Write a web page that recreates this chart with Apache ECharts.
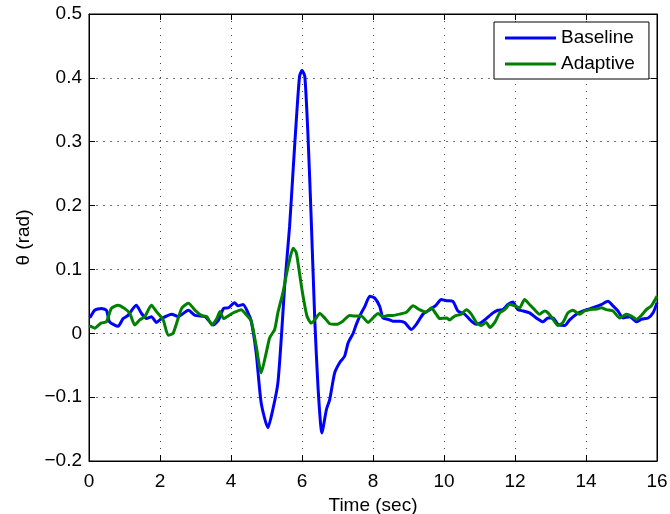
<!DOCTYPE html>
<html>
<head>
<meta charset="utf-8">
<script src="https://cdn.jsdelivr.net/npm/echarts@6/dist/echarts.min.js"></script>
<style>
	html, body { margin: 0; padding: 0; background: #fff; }
	#chart { width: 670px; height: 514px; }
</style>
</head>
<body>
<div id="chart"></div>
<script>
// 时间轴与角度数据
var baselineTime = [0, 0.04, 0.16, 0.34, 0.49, 0.58, 0.82, 0.96, 1.10, 1.33, 1.48, 1.62, 1.76, 1.90, 2.04, 2.33, 2.51, 2.80, 2.99, 3.27, 3.50, 3.65, 3.79, 3.93, 4.10, 4.20, 4.34, 4.48, 4.57, 4.71, 4.85, 5.04, 5.18, 5.32, 5.42, 5.51, 5.65, 5.75, 5.84, 5.93, 6.00, 6.08, 6.17, 6.26, 6.36, 6.45, 6.56, 6.69, 6.78, 6.92, 7.06, 7.20, 7.30, 7.44, 7.53, 7.67, 7.77, 7.91, 8.05, 8.19, 8.28, 8.42, 8.56, 8.75, 8.89, 9.08, 9.22, 9.41, 9.60, 9.78, 9.92, 10.07, 10.25, 10.39, 10.58, 10.77, 10.91, 11.05, 11.19, 11.38, 11.52, 11.66, 11.80, 11.94, 12.08, 12.23, 12.41, 12.60, 12.79, 12.93, 13.07, 13.21, 13.40, 13.54, 13.73, 13.92, 14.10, 14.29, 14.43, 14.62, 14.76, 14.90, 15.04, 15.23, 15.42, 15.56, 15.75, 15.89, 16.0];
var baselineTheta = [0.025, 0.026, 0.036, 0.039, 0.036, 0.018, 0.011, 0.023, 0.028, 0.044, 0.031, 0.023, 0.026, 0.017, 0.023, 0.030, 0.026, 0.036, 0.028, 0.026, 0.013, 0.021, 0.039, 0.040, 0.048, 0.043, 0.045, 0.032, 0.019, -0.031, -0.109, -0.148, -0.119, -0.078, -0.005, 0.073, 0.167, 0.256, 0.334, 0.402, 0.412, 0.402, 0.308, 0.178, 0.021, -0.083, -0.156, -0.119, -0.104, -0.062, -0.046, -0.036, -0.015, 0.000, 0.014, 0.032, 0.042, 0.058, 0.055, 0.042, 0.024, 0.022, 0.019, 0.019, 0.017, 0.006, 0.014, 0.030, 0.037, 0.044, 0.053, 0.051, 0.050, 0.035, 0.030, 0.019, 0.014, 0.017, 0.023, 0.032, 0.036, 0.037, 0.045, 0.049, 0.037, 0.035, 0.032, 0.024, 0.018, 0.024, 0.024, 0.014, 0.012, 0.021, 0.030, 0.035, 0.038, 0.042, 0.045, 0.050, 0.043, 0.035, 0.024, 0.026, 0.018, 0.022, 0.024, 0.032, 0.048];

var adaptiveTime = [0, 0.04, 0.16, 0.34, 0.49, 0.63, 0.82, 1.00, 1.15, 1.29, 1.43, 1.57, 1.76, 1.90, 2.09, 2.23, 2.37, 2.61, 2.80, 2.99, 3.17, 3.32, 3.46, 3.60, 3.69, 3.79, 3.97, 4.10, 4.29, 4.43, 4.57, 4.71, 4.85, 4.99, 5.09, 5.23, 5.32, 5.46, 5.61, 5.75, 5.84, 5.93, 6.03, 6.14, 6.26, 6.36, 6.50, 6.64, 6.78, 6.97, 7.15, 7.34, 7.48, 7.67, 7.86, 8.00, 8.14, 8.28, 8.42, 8.56, 8.75, 8.94, 9.13, 9.31, 9.50, 9.64, 9.78, 9.88, 10.07, 10.16, 10.30, 10.49, 10.63, 10.77, 10.91, 11.05, 11.19, 11.29, 11.43, 11.57, 11.71, 11.85, 11.99, 12.13, 12.27, 12.41, 12.55, 12.69, 12.84, 12.93, 13.07, 13.21, 13.35, 13.49, 13.63, 13.82, 13.96, 14.10, 14.29, 14.43, 14.57, 14.76, 14.95, 15.14, 15.28, 15.42, 15.56, 15.70, 15.84, 16.0];
var adaptiveTheta = [0.010, 0.011, 0.008, 0.016, 0.018, 0.039, 0.044, 0.039, 0.031, 0.013, 0.021, 0.026, 0.044, 0.034, 0.021, -0.003, 0.000, 0.039, 0.047, 0.036, 0.028, 0.026, 0.013, 0.023, 0.034, 0.023, 0.029, 0.033, 0.037, 0.029, 0.019, -0.020, -0.062, -0.031, -0.007, 0.006, 0.032, 0.063, 0.105, 0.133, 0.126, 0.094, 0.058, 0.027, 0.016, 0.021, 0.031, 0.024, 0.015, 0.014, 0.019, 0.028, 0.027, 0.027, 0.017, 0.024, 0.031, 0.026, 0.028, 0.028, 0.030, 0.033, 0.043, 0.037, 0.033, 0.040, 0.030, 0.023, 0.024, 0.021, 0.027, 0.030, 0.037, 0.030, 0.017, 0.012, 0.017, 0.009, 0.017, 0.032, 0.037, 0.045, 0.043, 0.040, 0.053, 0.045, 0.037, 0.030, 0.035, 0.032, 0.022, 0.012, 0.017, 0.032, 0.036, 0.030, 0.035, 0.037, 0.038, 0.040, 0.037, 0.035, 0.024, 0.030, 0.027, 0.022, 0.028, 0.037, 0.043, 0.058];

var xTickLabels = ['0', '2', '4', '6', '8', '10', '12', '14', '16'];
var yTickLabels = ['\u22120.2', '\u22120.1', '0', '0.1', '0.2', '0.3', '0.4', '0.5'];

function zip(t, v) {
	var out = [];
	for (var i = 0; i < t.length; i++) {
		out.push([t[i], v[i]]);
	}
	return out;
}

var FONT = 'Liberation Sans';
var FS = 19;

var chart = echarts.init(document.getElementById('chart'), null, { renderer : 'canvas' });

// 坐标轴外框：上、右两边只画刻度，不画标签
function boxAxis(pos, min, max, interval) {
	return {
		type : 'value',
		position : pos,
		min : min,
		max : max,
		interval : interval,
		axisLine : { show : true, onZero : false, lineStyle : { color : '#000', width : 1 } },
		axisTick : { show : true, inside : true, length : 6, lineStyle : { color : '#000' } },
		axisLabel : { show : false },
		splitLine : { show : false }
	};
}

var option = {
	animation : false,
	backgroundColor : '#fff',
	textStyle : { fontFamily : FONT },
	grid : {
		left : 89,
		right : 13,
		top : 14,
		bottom : 53,
		outerBoundsMode : 'none',
		containLabel : false,
		show : true,
		borderColor : '#000',
		borderWidth : 1,
		backgroundColor : '#fff'
	},
	legend : {
		left : 494,
		top : 22,
		orient : 'vertical',
		icon : 'rect',
		itemWidth : 51,
		itemHeight : 3,
		itemGap : 6,
		padding : [ 6, 14, 5, 11 ],
		backgroundColor : '#fff',
		borderColor : '#000',
		borderWidth : 1,
		textStyle : { color : '#000', fontSize : FS, fontFamily : FONT, lineHeight : 20 },
		data : [ 'Baseline', 'Adaptive' ]
	},
	xAxis : [ {
		type : 'value',
		position : 'bottom',
		min : 0,
		max : 16,
		interval : 2,
		name : 'Time (sec)',
		nameLocation : 'middle',
		nameGap : 27,
		nameTextStyle : { color : '#000', fontSize : FS, fontFamily : FONT },
		axisLine : { show : true, onZero : false, lineStyle : { color : '#000', width : 1 } },
		axisTick : { show : true, inside : true, length : 6, lineStyle : { color : '#000' } },
		axisLabel : {
			color : '#000', fontSize : FS, fontFamily : FONT, margin : 11,
			formatter : function(v) { return xTickLabels[Math.round(v / 2)]; }
		},
		splitLine : { show : true, lineStyle : { color : '#444', type : [ 1, 6 ], width : 1 } }
	}, boxAxis('top', 0, 16, 2) ],
	yAxis : [ {
		type : 'value',
		position : 'left',
		min : -0.2,
		max : 0.5,
		interval : 0.1,
		name : '\u03b8 (rad)',
		nameLocation : 'middle',
		nameGap : 55,
		nameRotate : 90,
		nameTextStyle : { color : '#000', fontSize : FS, fontFamily : FONT },
		axisLine : { show : true, onZero : false, lineStyle : { color : '#000', width : 1 } },
		axisTick : { show : true, inside : true, length : 6, lineStyle : { color : '#000' } },
		axisLabel : {
			color : '#000', fontSize : FS, fontFamily : FONT, margin : 7,
			formatter : function(v) { return yTickLabels[Math.round((v + 0.2) / 0.1)]; }
		},
		splitLine : { show : true, lineStyle : { color : '#777', type : [ 2, 5 ], width : 1 } }
	}, boxAxis('right', -0.2, 0.5, 0.1) ],
	series : [ {
		name : 'Baseline',
		type : 'line',
		xAxisIndex : 0,
		yAxisIndex : 0,
		showSymbol : false,
		symbol : 'none',
		smooth : 0.2,
		color : '#0000ff',
		lineStyle : { color : '#0000ff', width : 3 },
		data : zip(baselineTime, baselineTheta)
	}, {
		name : 'Adaptive',
		type : 'line',
		xAxisIndex : 0,
		yAxisIndex : 0,
		showSymbol : false,
		symbol : 'none',
		smooth : 0.2,
		color : '#008000',
		lineStyle : { color : '#008000', width : 3 },
		data : zip(adaptiveTime, adaptiveTheta)
	} ]
};

chart.setOption(option, true);
</script>
</body>
</html>
